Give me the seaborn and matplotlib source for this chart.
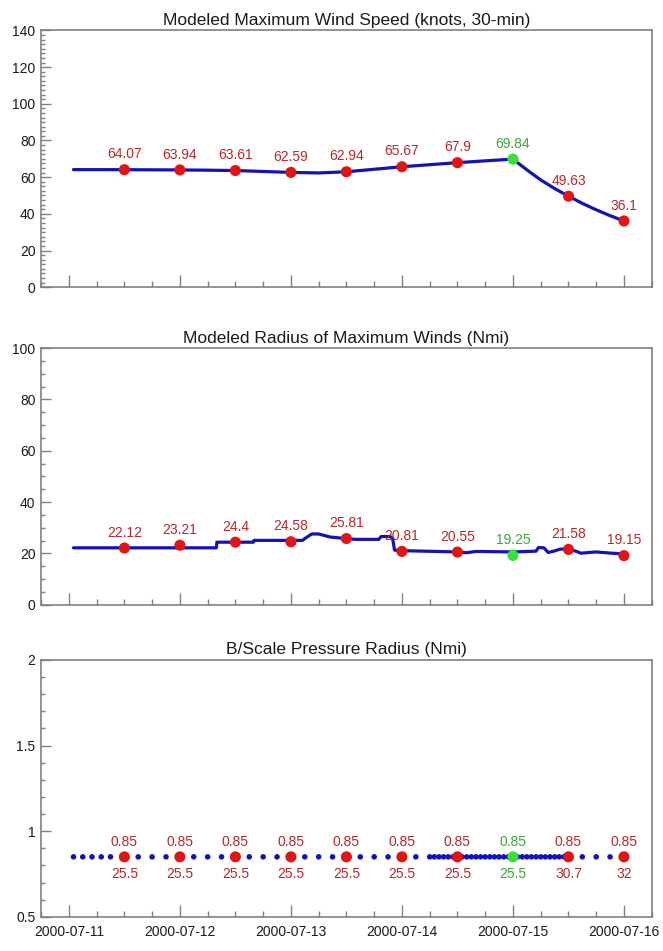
import numpy as np
import pandas as pd
import matplotlib
matplotlib.use("Agg")
import matplotlib.pyplot as plt
import matplotlib.dates as mdates
from matplotlib.ticker import MultipleLocator, FuncFormatter
import seaborn as sns

# ---- datos ----
T0 = pd.Timestamp("2000-07-11 00:00")

# puntos etiquetados (cada 12 h desde 2000-07-11 12:00)
horas_pts = [12, 24, 36, 48, 60, 72, 84, 96, 108, 120]
viento_pts = [64.07, 63.94, 63.61, 62.59, 62.94, 65.67, 67.9, 69.84, 49.63, 36.1]
rmw_pts = [22.12, 23.21, 24.4, 24.58, 25.81, 20.81, 20.55, 19.25, 21.58, 19.15]
b_pts = [0.85, 0.85, 0.85, 0.85, 0.85, 0.85, 0.85, 0.85, 0.85, 0.85]
rs_pts = [25.5, 25.5, 25.5, 25.5, 25.5, 25.5, 25.5, 25.5, 30.7, 32]
pico = 7  # punto verde

# linea de viento modelado
viento_horas = [1, 6, 12, 18, 24, 30, 36, 42, 48, 54, 60, 66, 72, 78, 84, 90, 96,
                99, 102, 105, 108, 111, 114, 117, 120]
viento_vals = [64.1, 64.1, 64.07, 64.0, 63.94, 63.8, 63.61, 63.1, 62.59, 62.3, 62.94,
               64.3, 65.67, 66.8, 67.9, 68.9, 69.84, 64.0, 58.5, 53.8, 49.63, 45.7,
               42.2, 39.0, 36.1]

# linea de radio de vientos maximos
rmw_horas = [1, 24, 31.9, 32, 39.9, 40, 50.5, 51, 52.5, 54, 56.5, 60, 62, 67, 67.5,
             69.5, 70, 70.4, 72, 84, 86, 88, 96, 101, 101.5, 102.7, 103.6, 104.8,
             106.2, 108, 109.6, 110.7, 112.5, 113.9, 117.5, 120]
rmw_vals = [22.2, 22.2, 22.2, 24.4, 24.4, 25.1, 25.1, 25.8, 27.6, 27.6, 26.4, 25.8,
            25.5, 25.5, 26.6, 26.6, 25.8, 21.3, 21.1, 20.6, 20.3, 20.8, 20.6, 20.9,
            22.3, 22.2, 20.4, 20.9, 21.7, 21.7, 20.9, 20.1, 20.4, 20.6, 20.1, 19.8]

# puntos azules del radio de presion
b_horas = ([1, 3, 5, 7, 9, 15, 18, 21, 27, 30, 33, 39, 42, 45, 51, 54, 57, 63, 66, 69, 75]
           + list(range(78, 108)) + [111, 114, 117])
b_vals = [0.85] * len(b_horas)

AZUL = "#1212b8"
ROJO = "#e31414"
ROJO_TXT = "#b8262c"
VERDE = "#3ae03a"
VERDE_TXT = "#3aa83a"
GRIS = "#808080"
NEGRO = "#1a1a1a"


def a_fechas(horas):
    return [T0 + pd.Timedelta(hours=h) for h in horas]


def marcar_puntos(ax, valores, arriba=None, abajo=None):
    fechas = a_fechas(horas_pts)
    tipo = ["pico" if i == pico else "normal" for i in range(len(valores))]
    sns.scatterplot(x=fechas, y=valores, hue=tipo, palette={"normal": ROJO, "pico": VERDE},
                    s=64, edgecolor="none", legend=False, ax=ax, zorder=5)
    for i, (f, v) in enumerate(zip(fechas, valores)):
        c = VERDE_TXT if i == pico else ROJO_TXT
        txt = arriba[i] if arriba is not None else v
        ax.annotate(f"{txt:g}", (f, v), xytext=(0, 11), textcoords="offset points",
                    ha="center", va="center", color=c, fontsize=10)
        if abajo is not None:
            ax.annotate(f"{abajo[i]:g}", (f, v), xytext=(0, -12), textcoords="offset points",
                        ha="center", va="center", color=c, fontsize=10)


def estilo_ejes(ax, titulo, ymin, ymax, paso, paso_menor, etiquetas_x=False):
    ax.set_title(titulo, fontsize=12.5, pad=4, color=NEGRO)
    ax.set_xlim(T0 - pd.Timedelta(hours=6), T0 + pd.Timedelta(hours=126))
    ax.set_ylim(ymin, ymax)
    ax.yaxis.set_major_locator(MultipleLocator(paso))
    ax.yaxis.set_minor_locator(MultipleLocator(paso_menor))
    ax.xaxis.set_major_locator(mdates.DayLocator())
    ax.xaxis.set_minor_locator(mdates.HourLocator(byhour=[6, 12, 18]))
    ax.xaxis.set_major_formatter(mdates.DateFormatter("%Y-%m-%d"))
    ax.yaxis.set_major_formatter(FuncFormatter(lambda v, p: f"{v:g}"))
    ax.tick_params(axis="x", which="both", bottom=True, top=False, direction="in",
                   width=1, color=GRIS, labelcolor=NEGRO)
    ax.tick_params(axis="x", which="major", length=9, labelsize=10, pad=6,
                   labelbottom=etiquetas_x)
    ax.tick_params(axis="x", which="minor", length=4)
    ax.tick_params(axis="y", which="both", left=True, right=False, direction="in",
                   width=1, color=GRIS, labelcolor=NEGRO)
    ax.tick_params(axis="y", which="major", length=7, labelsize=10, pad=4)
    ax.tick_params(axis="y", which="minor", length=3)
    for s in ax.spines.values():
        s.set_color(GRIS)
        s.set_linewidth(1.2)
    ax.set_xlabel("")
    ax.set_ylabel("")


def main():
    sns.set_style("white")
    plt.rcParams["font.family"] = ["Liberation Sans", "DejaVu Sans"]

    fig = plt.figure(figsize=(6.63, 9.51), dpi=100)
    izq, ancho, alto = 0.062, 0.921, 0.270
    ax1 = fig.add_axes([izq, 0.698, ancho, alto])
    ax2 = fig.add_axes([izq, 0.364, ancho, alto])
    ax3 = fig.add_axes([izq, 0.036, ancho, alto])

    # panel 1: viento maximo
    sns.lineplot(x=a_fechas(viento_horas), y=viento_vals, color=AZUL, linewidth=2.3, ax=ax1)
    marcar_puntos(ax1, viento_pts)
    estilo_ejes(ax1, "Modeled Maximum Wind Speed (knots, 30-min)", 0, 140, 20, 2.5)

    # panel 2: radio de vientos maximos
    sns.lineplot(x=a_fechas(rmw_horas), y=rmw_vals, color=AZUL, linewidth=2.3, ax=ax2)
    marcar_puntos(ax2, rmw_pts)
    estilo_ejes(ax2, "Modeled Radius of Maximum Winds (Nmi)", 0, 100, 20, 5)

    # panel 3: B / radio de presion
    sns.scatterplot(x=a_fechas(b_horas), y=b_vals, color=AZUL, s=16, edgecolor="none",
                    legend=False, ax=ax3)
    marcar_puntos(ax3, b_pts, arriba=b_pts, abajo=rs_pts)
    estilo_ejes(ax3, "B/Scale Pressure Radius (Nmi)", 0.5, 2, 0.5, 0.1, etiquetas_x=True)

    fig.savefig("out.png", dpi=100)


if __name__ == "__main__":
    main()
